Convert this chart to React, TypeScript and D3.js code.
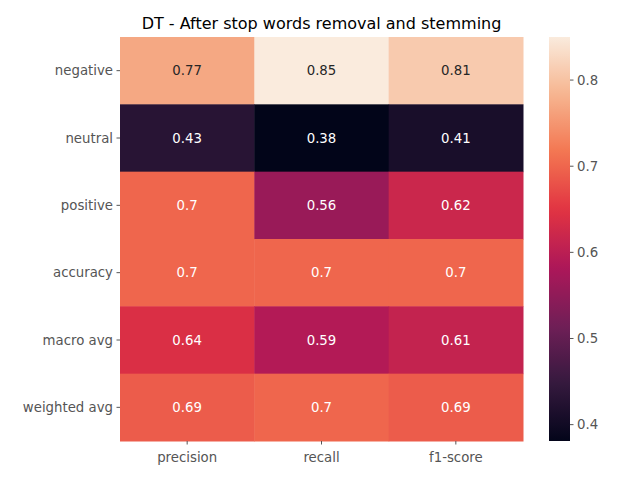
import React from "react";
import * as d3 from "d3";

const rows = ["negative", "neutral", "positive", "accuracy", "macro avg", "weighted avg"];
const cols = ["precision", "recall", "f1-score"];
const values = [
  [0.77, 0.85, 0.81],
  [0.43, 0.38, 0.41],
  [0.7, 0.56, 0.62],
  [0.7, 0.7, 0.7],
  [0.64, 0.59, 0.61],
  [0.69, 0.7, 0.69],
];
const cbTicks = [0.4, 0.5, 0.6, 0.7, 0.8];
const rocketStops = ["#03051a", "#35193e", "#701f57", "#ad1759", "#e13342", "#f37651", "#f6b48f", "#faebdd"];

export default function App() {
  const W = 640, H = 480;
  const x0 = 120, x1 = 523, y0 = 37, y1 = 441;
  const vmin = 0.381, vmax = 0.85;
  const x = d3.scaleBand().domain(cols).range([x0, x1]);
  const y = d3.scaleBand().domain(rows).range([y0, y1]);
  const interp = d3.interpolateRgbBasis(rocketStops);
  const pos = [0, 1 / 7, 2 / 7, 3 / 7, 4 / 7, 5 / 7, 6 / 7, 1];
  const lin = d3.scaleLinear().domain(pos).range(rocketStops as any).interpolate(d3.interpolateRgb as any);
  const color = (v: number) => lin((v - vmin) / (vmax - vmin)) as unknown as string;
  void interp;
  const cy = d3.scaleLinear().domain([vmin, vmax]).range([y1, y0]);
  const cbX = 549, cbW = 21;
  const grad = d3.range(0, 1.0001, 0.02);
  const font = "DejaVu Sans, sans-serif";
  const lum = (c: string) => {
    const r = d3.rgb(c);
    const f = (u: number) => { u /= 255; return u <= 0.03928 ? u / 12.92 : Math.pow((u + 0.055) / 1.055, 2.4); };
    return 0.2126 * f(r.r) + 0.7152 * f(r.g) + 0.0722 * f(r.b);
  };
  return (
    <svg width={W} height={H} style={{ display: "block", margin: "-8px" }} fontFamily={font}>
      <rect width={W} height={H} fill="#fff" />
      <defs>
        <linearGradient id="cb" x1="0" y1="1" x2="0" y2="0">
          {grad.map((t) => (
            <stop key={t} offset={t} stopColor={lin(t) as unknown as string} />
          ))}
        </linearGradient>
      </defs>
      <text x={(x0 + x1) / 2} y={29} textAnchor="middle" fontSize={16} fill="#000">
        DT - After stop words removal and stemming
      </text>
      {values.map((row, i) =>
        row.map((v, j) => {
          const c = color(v);
          return (
            <g key={i + "-" + j}>
              <rect x={x(cols[j])!} y={y(rows[i])!} width={x.bandwidth() + 0.5} height={y.bandwidth() + 0.5} fill={c} />
              <text x={x(cols[j])! + x.bandwidth() / 2} y={y(rows[i])! + y.bandwidth() / 2} dy="0.35em" textAnchor="middle" fontSize={13.3} fill={lum(c) > 0.408 ? "#262626" : "#fff"}>
                {String(v)}
              </text>
            </g>
          );
        })
      )}
      {rows.map((r) => (
        <g key={r}>
          <line x1={x0 - 3.5} x2={x0} y1={y(r)! + y.bandwidth() / 2} y2={y(r)! + y.bandwidth() / 2} stroke="#555" />
          <text x={x0 - 7} y={y(r)! + y.bandwidth() / 2} dy="0.35em" textAnchor="end" fontSize={13.3} fill="#555">{r}</text>
        </g>
      ))}
      {cols.map((c) => (
        <g key={c}>
          <line x1={x(c)! + x.bandwidth() / 2} x2={x(c)! + x.bandwidth() / 2} y1={y1} y2={y1 + 3.5} stroke="#555" />
          <text x={x(c)! + x.bandwidth() / 2} y={y1 + 21} textAnchor="middle" fontSize={13.3} fill="#555">{c}</text>
        </g>
      ))}
      <rect x={cbX} y={y0} width={cbW} height={y1 - y0} fill="url(#cb)" />
      {cbTicks.map((t) => (
        <g key={t}>
          <line x1={cbX + cbW} x2={cbX + cbW + 3.5} y1={cy(t)} y2={cy(t)} stroke="#555" />
          <text x={cbX + cbW + 7} y={cy(t)} dy="0.35em" fontSize={13.3} fill="#555">{t.toFixed(1)}</text>
        </g>
      ))}
    </svg>
  );
}
